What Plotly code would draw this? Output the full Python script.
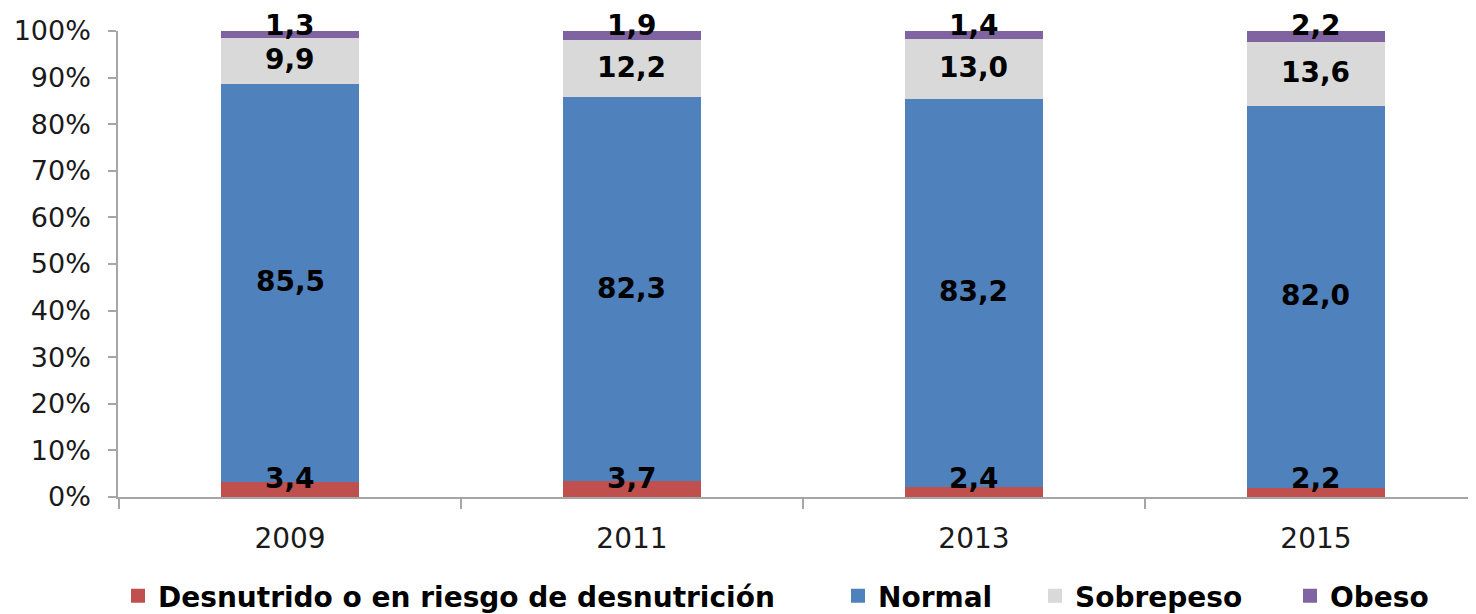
import plotly.graph_objects as go

years = ["2009", "2011", "2013", "2015"]
desnutrido = [3.4, 3.7, 2.4, 2.2]
normal = [85.5, 82.3, 83.2, 82.0]
sobrepeso = [9.9, 12.2, 13.0, 13.6]
obeso = [1.3, 1.9, 1.4, 2.2]
y_ticks = list(range(0, 101, 10))
y_tick_labels = [f"{t}%" for t in y_ticks]

# name, values, colour, legend entry width (px)
series = [
    ("Desnutrido o en riesgo de desnutrición", desnutrido, "#C0504D", 675),
    ("Normal", normal, "#4F81BD", 152),
    ("Sobrepeso", sobrepeso, "#D9D9D9", 210),
    ("Obeso", obeso, "#8064A2", 100),
]

FONT = "DejaVu Sans"
fig = go.Figure()
for name, vals, col, lw in series:
    fig.add_trace(go.Bar(x=years, y=vals, name=name, marker_color=col,
                         marker_line=dict(color=col, width=2),
                         legendwidth=lw, hoverinfo="skip"))

annotations = []
for i, yr in enumerate(years):
    base = 0.0
    for k, (name, vals, col, _) in enumerate(series):
        v = vals[i]
        center = base + v / 2
        ys = 0
        if k == 0:
            center = max(center, 3.9)
        if k == len(series) - 1:
            center = 100
            ys = 6
        annotations.append(dict(
            x=i, y=center, xref="x", yref="y", text=f"{v:.1f}".replace(".", ","),
            showarrow=False, yanchor="middle", yshift=ys,
            font=dict(family=FONT, size=28, color="black", weight="bold")))
        base += v

# the page body has an 8px margin, so the figure is sized/offset to compensate
fig.update_layout(
    barmode="stack", bargap=0.602,
    width=1468, height=606,
    margin=dict(l=110, r=0, t=23, b=117, autoexpand=False),
    plot_bgcolor="white", paper_bgcolor="white",
    font=dict(family=FONT, size=27, color="#1a1a1a"),
    showlegend=True,
    legend=dict(orientation="h", x=0.0, xanchor="left", y=-0.2124, yanchor="middle",
                font=dict(family=FONT, size=28, color="black", weight="bold"),
                itemwidth=30, traceorder="normal"),
    annotations=annotations,
)
fig.update_xaxes(type="category", range=[-0.503, 3.468], automargin=False,
                 showline=True, linecolor="#A6A6A6", linewidth=1.5,
                 ticks="outside", tickson="boundaries", ticklen=10, tickcolor="#A6A6A6",
                 tickwidth=1.5, showgrid=False, ticklabelstandoff=16,
                 tickfont=dict(family=FONT, size=28, color="#1a1a1a"))
fig.update_yaxes(range=[0, 100], tickmode="array", tickvals=y_ticks, ticktext=y_tick_labels,
                 automargin=False,
                 showline=True, linecolor="#A6A6A6", linewidth=1.5,
                 ticks="outside", ticklen=8, tickcolor="#A6A6A6", tickwidth=1.5,
                 showgrid=False, zeroline=False, ticklabelstandoff=12,
                 tickfont=dict(family=FONT, size=27, color="#1a1a1a"))

fig.write_html("out.html")
